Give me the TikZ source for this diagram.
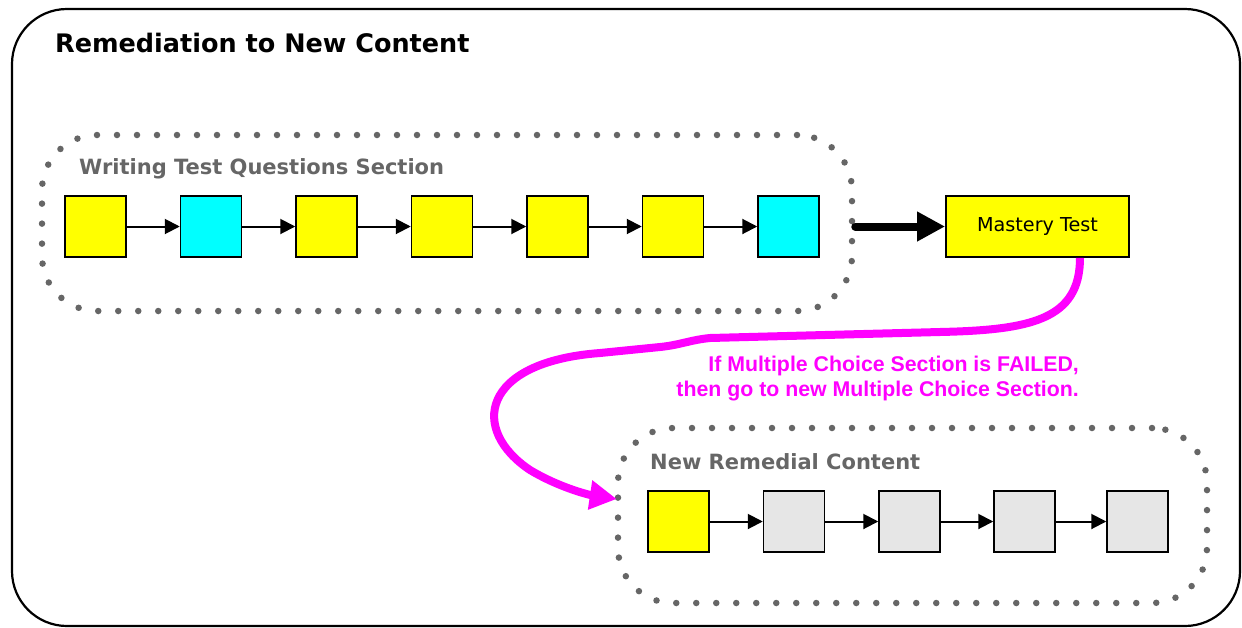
\documentclass[tikz,border=0pt]{standalone}
\usepackage{fontspec}
\setmainfont{DejaVu Sans}
\newfontfamily\arialfont{Liberation Sans}
\usetikzlibrary{arrows.meta,calc}
\definecolor{cyellow}{HTML}{FFFF00}
\definecolor{ccyan}{HTML}{00FFFF}
\definecolor{cgray}{HTML}{E6E6E6}
\definecolor{cmag}{HTML}{FF00FF}
\definecolor{clabel}{HTML}{666666}
\tikzset{
  sq/.style={draw=black, line width=1.5pt, minimum size=61pt, inner sep=0pt},
  ysq/.style={sq, fill=cyellow},
  csq/.style={sq, fill=ccyan},
  gsq/.style={sq, fill=cgray},
  thinarrow/.style={line width=2pt, -{Triangle[length=15pt,width=15pt]}},
  dotbox/.style={draw=clabel, line width=6.5pt, dash pattern=on 0pt off 20pt, line cap=round, rounded corners=55pt, inner sep=0pt},
  seclabel/.style={anchor=base west, inner sep=0pt, text=clabel, font=\fontsize{21}{25}\selectfont\bfseries},
}
\begin{document}
\begin{tikzpicture}[x=1pt,y=-1pt]
\useasboundingbox (0,0) rectangle (1242,627);
% outer frame
\draw[line width=2.2pt, rounded corners=55pt] (12,9) rectangle (1240,626);
\node[anchor=base west, inner sep=0pt, font=\fontsize{25.5}{30}\selectfont\bfseries] (title) at (55,52.7) {Remediation to New Content};
% section 1
\node[dotbox, minimum width=810pt, minimum height=176pt] (sec1) at (447,223) {};
\node[seclabel] (lab1) at (79,174) {Writing Test Questions Section};
\node[ysq] (a1) at (95.5,226.5) {};
\node[csq] (a2) at (211,226.5) {};
\node[ysq] (a3) at (326.5,226.5) {};
\node[ysq] (a4) at (442,226.5) {};
\node[ysq] (a5) at (557.5,226.5) {};
\node[ysq] (a6) at (673,226.5) {};
\node[csq] (a7) at (788.5,226.5) {};
\foreach \i/\j in {a1/a2,a2/a3,a3/a4,a4/a5,a5/a6,a6/a7} \draw[thinarrow] (\i) -- (\j);
% mastery test
\node[draw=black, line width=1.8pt, fill=cyellow, minimum width=183pt, minimum height=61pt, inner sep=0pt, font=\fontsize{19.2}{23}\selectfont] (mt) at (1037.5,226.5) {Mastery Test};
\draw[line width=8pt, line cap=round, -{Triangle[length=28pt,width=28pt]}] (sec1.east |- mt) -- (mt.west);
% section 2
\node[dotbox, minimum width=589pt, minimum height=175pt] (sec2) at (912.5,515.5) {};
\node[seclabel] (lab2) at (650,469) {New Remedial Content};
\node[ysq] (b1) at (678.5,521.5) {};
\node[gsq] (b2) at (794,521.5) {};
\node[gsq] (b3) at (909.5,521.5) {};
\node[gsq] (b4) at (1024.5,521.5) {};
\node[gsq] (b5) at (1137.5,521.5) {};
\foreach \i/\j in {b1/b2,b2/b3,b3/b4,b4/b5} \draw[thinarrow] (\i) -- (\j);
% magenta path
\draw[cmag, line width=8pt, -{Triangle[length=27pt,width=28pt]}]
  ($(mt.south)+(42.5,0)$) .. controls (1080,320) and (1030,330) .. (940,332)
  -- (710,338) .. controls (690,340) and (680,345) .. (660,347)
  -- (600,353) .. controls (480,362) and (470,430) .. (530,470)
  .. controls (560,488) and (590,495) .. ($(sec2.west)+(2,-16.5)$);
\node[anchor=base east, align=right, inner sep=0pt, text=cmag, font=\arialfont\fontsize{21.3}{25}\selectfont\bfseries] (msg) at (1079,396.7) {If Multiple Choice Section is FAILED,\\then go to new Multiple Choice Section.};
\end{tikzpicture}
\end{document}
